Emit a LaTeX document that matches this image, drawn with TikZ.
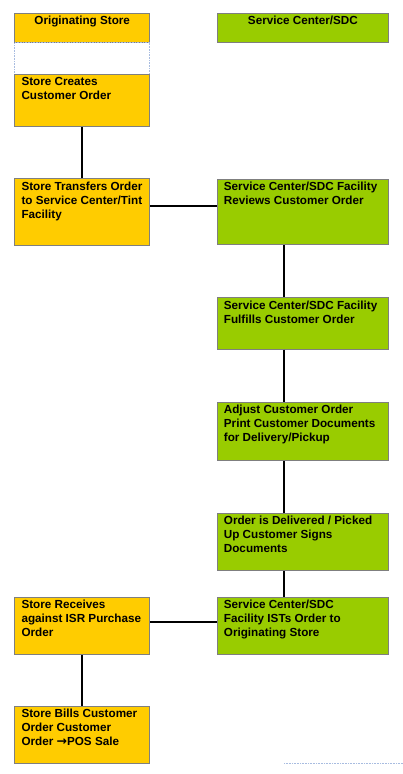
\documentclass[tikz,border=0pt]{standalone}
\usepackage{fontspec}
\setmainfont{Liberation Sans}
\newfontfamily\arrowfont{DejaVu Sans}
\definecolor{storeorange}{HTML}{FFCC00}
\definecolor{scgreen}{HTML}{99CC00}
\definecolor{boxedge}{HTML}{7F7F7F}
\definecolor{dotblue}{HTML}{A8BCE0}
\usetikzlibrary{calc}
\tikzset{
  x=1pt, y=-1pt,
  box/.style={draw=boxedge, line width=0.8pt, inner sep=0pt, anchor=north west},
  storebox/.style={box, fill=storeorange},
  scbox/.style={box, fill=scgreen},
  txt/.style={inner sep=0pt, anchor=north west, align=left,
    font=\fontsize{11.7}{13.8}\selectfont\bfseries},
  headtxt/.style={inner sep=0pt, anchor=north,
    font=\fontsize{11.7}{13.8}\selectfont\bfseries},
  link/.style={draw=black, line width=1.8pt}
}
\newcommand{\flowbox}[7]{% name, style, x1, y1, x2, y2, text
  \pgfmathsetmacro{\bw}{#5-#3}\pgfmathsetmacro{\bh}{#6-#4}
  \node[#2, minimum width=\bw pt, minimum height=\bh pt] (#1) at (#3,#4) {};
  \node[txt] (#1-t) at ($(#1.north west)+(7,3.6)$) {#7};
}
\begin{document}
\begin{tikzpicture}
\useasboundingbox (0,0) rectangle (403,774);
% headers
\node[storebox, minimum width=135pt, minimum height=29.6pt] (hstore) at (14.3,12.7) {};
\node[headtxt] (hstore-t) at ($(hstore.north)+(0,3)$) {Originating Store};
\node[scbox, minimum width=171.6pt, minimum height=29.6pt] (hsc) at (216.7,12.7) {};
\node[headtxt] (hsc-t) at ($(hsc.north)+(0,3)$) {Service Center/SDC};
% spacer box
\node[draw=dotblue, densely dotted, line width=0.6pt, inner sep=0pt, anchor=north west,
  minimum width=135pt, minimum height=31.7pt] (spacer) at (14.3,42.3) {};
% store column
\flowbox{create}{storebox}{14.3}{74}{149.3}{126.3}{Store Creates\\Customer Order}
\flowbox{transfer}{storebox}{14.3}{178.3}{149.3}{245}{Store Transfers Order\\to Service Center/Tint\\Facility}
\flowbox{receive}{storebox}{14.3}{596.7}{149.3}{654.3}{Store Receives\\against ISR Purchase\\Order}
\flowbox{bill}{storebox}{14.3}{705.7}{149.3}{763.3}{Store Bills Customer\\Order Customer\\Order {\arrowfont\bfseries\fontsize{12.5}{13.8}\selectfont →}POS Sale}
% service center column
\flowbox{review}{scbox}{216.7}{178.7}{388.3}{244.3}{Service Center/SDC Facility\\Reviews Customer Order}
\flowbox{fulfill}{scbox}{216.7}{297}{388.3}{348.7}{Service Center/SDC Facility\\Fulfills Customer Order}
\flowbox{adjust}{scbox}{216.7}{401.7}{388.3}{460}{Adjust Customer Order\\Print Customer Documents\\for Delivery/Pickup}
\flowbox{deliver}{scbox}{216.7}{512.7}{388.3}{570}{Order is Delivered / Picked\\Up Customer Signs\\Documents}
\flowbox{ist}{scbox}{216.7}{596.7}{388.3}{654}{Service Center/SDC\\Facility ISTs Order to\\Originating Store}
% connectors
\coordinate (c1) at (283.7,0);
\coordinate (h1) at (0,205.7);
\coordinate (h2) at (0,622.3);
\draw[link] (create.south) -- (transfer.north);
\draw[link] (transfer.east |- h1) -- (review.west |- h1);
\draw[link] (c1 |- review.south) -- (c1 |- fulfill.north);
\draw[link] (c1 |- fulfill.south) -- (c1 |- adjust.north);
\draw[link] (c1 |- adjust.south) -- (c1 |- deliver.north);
\draw[link] (c1 |- deliver.south) -- (c1 |- ist.north);
\draw[link] (receive.east |- h2) -- (ist.west |- h2);
\draw[link] (receive.south) -- (bill.north);
% stray dotted line at bottom
\coordinate (d1) at (284,763.3);
\coordinate (d2) at (402.7,763.3);
\draw[dotblue, densely dotted, line width=0.6pt] (d1) -- (d2);
\end{tikzpicture}
\end{document}
